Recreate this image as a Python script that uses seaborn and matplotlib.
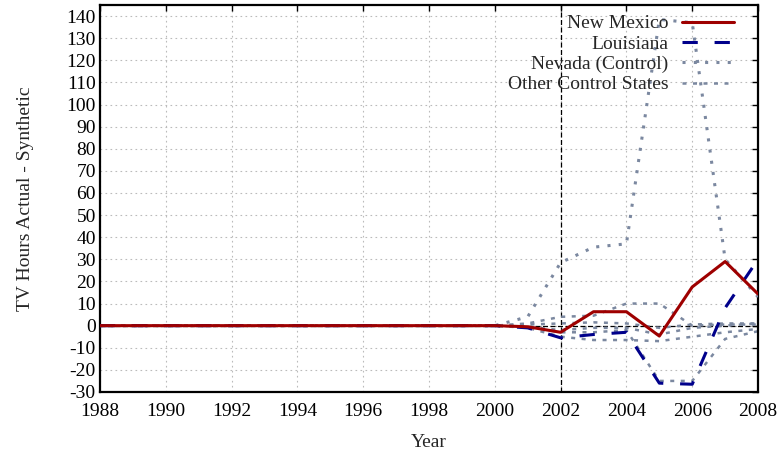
import matplotlib
matplotlib.use("Agg")
import matplotlib.pyplot as plt
import seaborn as sns
import pandas as pd
from matplotlib.lines import Line2D

years = [1988, 1989, 1990, 1991, 1992, 1993, 1994, 1995, 1996, 1997, 1998,
         1999, 2000, 2001, 2002, 2003, 2004, 2005, 2006, 2007, 2008]

new_mexico = [0, 0, 0, 0, 0, 0, 0, 0, 0, 0, 0, 0, 0, -0.5, -3, 6.3, 6.3, -4.7, 17.5, 29, 14.3]
louisiana = [0, 0, 0, 0, 0, 0, 0, 0, 0, 0, 0, 0, 0, -1, -5.5, -4, -3, -26, -26.5, 8, 30]
nevada = [0, 0, 0, 0, 0, 0, 0, 0, 0, 0, 0, 0, 0, 4, 28.5, 35.5, 37, 138.5, 137, 30, 13]

other_a = [0, 0, 0, 0, 0, 0, 0, 0, 0, 0, 0, 0, 0, 1, 4, 4.5, 10, 10, 0, 0.5, 0.5]
other_b = [0, 0, 0, 0, 0, 0, 0, 0, 0, 0, 0, 0, 0, -0.5, -2, -1, -1, -4, -1, 0, 1]
other_c = [0, 0, 0, 0, 0, 0, 0, 0, 0, 0, 0, 0, 0, -1, -5, -6.5, -6.5, -7, -5, -3, -1.5]
other_d = [0, 0, 0, 0, 0, 0, 0, 0, 0, 0, 0, 0, 0, -0.5, -3, -3, -2, -25, -25, -6, -2.5]
other_e = [0, 0, 0, 0, 0, 0, 0, 0, 0, 0, 0, 0, 0, 0.5, 1, 1.5, 1, -1, 0.5, 1, 1]
others = [other_a, other_b, other_c, other_d, other_e]

labels = ["New Mexico", "Louisiana", "Nevada (Control)", "Other Control States"]
x_ticks = [1988, 1990, 1992, 1994, 1996, 1998, 2000, 2002, 2004, 2006, 2008]
y_ticks = [-30, -20, -10, 0, 10, 20, 30, 40, 50, 60, 70, 80, 90, 100, 110, 120, 130, 140]
treatment_year = 2002

sns.set_style("white")
plt.rcParams['font.family'] = ['Liberation Serif', 'DejaVu Serif']
plt.rcParams['font.size'] = 14

fig, ax = plt.subplots(figsize=(7.81, 4.59), dpi=100)
fig.subplots_adjust(left=0.128, right=0.9706, top=0.989, bottom=0.146)

red = "#9e0000"
blue = "#00008b"
gray = "#7b88a0"

nm_style = dict(color=red, lw=2.2)
la_style = dict(color=blue, lw=2.2, linestyle=(0, (5, 5.5)))
nv_style = dict(color=gray, lw=2.2, linestyle=(0, (1, 2.7)))
ot_style = dict(color=gray, lw=1.8, linestyle=(0, (1.6, 2.6)))

# reference lines
ax.axhline(0, color="black", lw=0.9, ls=(0, (4, 2)), zorder=1)
ax.axvline(treatment_year, color="black", lw=0.9, ls=(0, (4, 2)), zorder=1)

for series in others:
    d = pd.DataFrame({"Year": years, "val": series})
    sns.lineplot(data=d, x="Year", y="val", ax=ax, zorder=2, **ot_style)

d = pd.DataFrame({"Year": years, "val": nevada})
sns.lineplot(data=d, x="Year", y="val", ax=ax, zorder=3, **nv_style)
d = pd.DataFrame({"Year": years, "val": louisiana})
sns.lineplot(data=d, x="Year", y="val", ax=ax, zorder=4, **la_style)
d = pd.DataFrame({"Year": years, "val": new_mexico})
sns.lineplot(data=d, x="Year", y="val", ax=ax, zorder=5, **nm_style)

ax.set_xlim(1988, 2008)
ax.set_ylim(-30, 145)
ax.set_xticks(x_ticks)
ax.set_yticks(y_ticks)
ax.set_xticklabels([str(t) for t in x_ticks])
ax.set_yticklabels([str(t) for t in y_ticks])
ax.grid(True, color="#bbbbbb", lw=0.8, ls=(0, (1.5, 3)))
ax.set_axisbelow(True)
ax.tick_params(direction="in", length=4.5, width=1.0, top=True, right=True,
               labelsize=14, colors="black")
ax.tick_params(axis="x", pad=8)
ax.tick_params(axis="y", pad=3)
for s in ax.spines.values():
    s.set_color("black")
    s.set_linewidth(1.6)
    s.set_visible(True)

ax.set_xlabel("Year", fontsize=14, labelpad=10)
ax.set_ylabel("TV Hours Actual - Synthetic", fontsize=14, labelpad=23)

handles = [
    Line2D([], [], **nm_style),
    Line2D([], [], **la_style),
    Line2D([], [], **nv_style),
    Line2D([], [], **ot_style),
]
leg = ax.legend(handles, labels, loc="upper right", bbox_to_anchor=(0.978, 1.0),
                frameon=False, markerfirst=False, fontsize=14, handlelength=2.65,
                labelspacing=0.14, handletextpad=0.72, borderaxespad=0.1)
for t in leg.get_texts():
    t.set_ha("right")
leg._legend_box.align = "right"

fig.savefig("out.png", dpi=100)
